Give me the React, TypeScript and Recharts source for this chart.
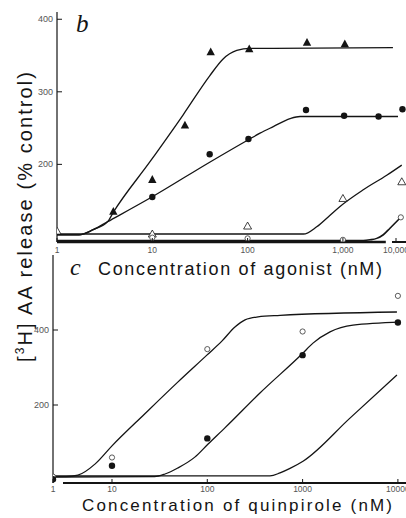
import React from "react";
import { ComposedChart, Line, Scatter, XAxis, YAxis, ReferenceLine } from "recharts";

// ---- panel b: agonist (nM) vs [3H]AA release (% control)
const bTicksX = [1, 10, 100, 1000, 10000];
const bTickLabelsX = ["1", "10", "100", "1,000", "10,000"];
const bTicksY = [200, 300, 400];

const bFilledTriX = [3.9, 10, 22, 41, 104, 420, 1080];
const bFilledTriY = [135, 179, 254, 355, 359, 368, 366];
const bFilledDotX = [10, 40, 102, 410, 1050, 4200, 11000];
const bFilledDotY = [155, 214, 235, 275, 267, 266, 276];
const bOpenTriX = [1, 10, 100, 1000, 10700];
const bOpenTriY = [108, 104, 115, 153, 176];
const bOpenDotX = [10, 100, 1000, 10300];
const bOpenDotY = [99, 98, 96, 127];

// fitted curves
const bFitTriX = [1, 1.7, 2.4, 3.4, 3.9, 9.5, 21, 40, 55, 77, 106, 185, 7500];
const bFitTriY = [103, 103, 110, 121, 134, 204, 268, 322, 345, 357, 360, 360, 361];
const bFitDotX = [1, 1.7, 2.4, 3.4, 9.9, 40, 102, 135, 186, 279, 355, 6660, 9190];
const bFitDotY = [103, 103, 110, 121, 155, 203, 234, 243, 252, 263, 266, 266, 266];
const bFitOpenTriX = [1, 385, 531, 733, 933, 2270, 5840, 10700];
const bFitOpenTriY = [104, 104, 114, 130, 142, 165, 185, 199];
const bFitOpenDotX = [1, 2270, 2990, 3900, 5090, 6650, 10000];
const bFitOpenDotY = [95, 95, 96, 98, 103, 112, 126];

// ---- panel c: quinpirole (nM)
const cTicksX = [1, 10, 100, 1000, 10000];
const cTickLabelsX = ["1", "10", "100", "1000", "10000"];
const cTicksY = [200, 400];

const cOpenX = [1, 10, 100, 1000, 10000];
const cOpenY = [9, 60, 349, 396, 491];
const cFilledX = [1, 10, 100, 1000, 10000];
const cFilledY = [2, 38, 111, 333, 420];

const cFitAX = [1, 1.66, 2.65, 5.2, 10, 22, 49, 99, 143, 195, 249, 341, 580, 9770];
const cFitAY = [9, 9, 13, 43, 91, 176, 261, 333, 371, 408, 427, 435, 439, 448];
const cFitBX = [1, 28, 36, 49, 74, 102, 153, 357, 986, 1285, 1940, 3380, 10500];
const cFitBY = [8, 9, 16, 32, 61, 96, 139, 232, 336, 365, 395, 413, 421];
const cFitCX = [1, 455, 580, 738, 1010, 3140, 9770];
const cFitCY = [11, 11, 19, 31, 50, 165, 280];

// broken log axes: panel b squeezes 1,000-10,000, panel c squeezes 1-10
const posB = (c: number) => (c > 1000 ? 3 + 0.6 * (Math.log10(c) - 3) : Math.log10(c));
const posC = (c: number) => (c < 10 ? 0.381 + 0.619 * Math.log10(c) : Math.log10(c));

const pts = (xs: number[], ys: number[], pos: (c: number) => number) =>
  xs.map((c, i) => ({ p: pos(c), v: ys[i] }));

const INK = "#141414";
const TICK_FONT = "Liberation Sans, Arial, sans-serif";

const FilledTri = (props: any) => {
  const { cx, cy } = props;
  return <path d={`M${cx},${cy - 4.5}L${cx + 4.2},${cy + 3.3}L${cx - 4.2},${cy + 3.3}Z`} fill={INK} />;
};
const OpenTri = (props: any) => {
  const { cx, cy } = props;
  return (
    <path
      d={`M${cx},${cy - 4}L${cx + 4},${cy + 3}L${cx - 4},${cy + 3}Z`}
      fill="#fff"
      stroke={INK}
      strokeWidth={0.8}
    />
  );
};
const FilledDot = (props: any) => <circle cx={props.cx} cy={props.cy} r={3.2} fill={INK} />;
const OpenDot = (props: any) => (
  <circle cx={props.cx} cy={props.cy} r={2.6} fill="#fff" stroke="#333" strokeWidth={0.8} />
);

const makeXTick = (ticks: number[], labels: string[], pos: (c: number) => number, dy: number) =>
  (props: any) => {
    const { x, y, payload } = props;
    const i = ticks.findIndex((t) => Math.abs(pos(t) - payload.value) < 1e-6);
    return (
      <g>
        <line x1={x} y1={y} x2={x} y2={y - 4} stroke={INK} strokeWidth={1} />
        <text x={x} y={y + dy} textAnchor="middle" fontSize={8.5} fill="#555" fontFamily={TICK_FONT}>
          {labels[i]}
        </text>
      </g>
    );
  };

const YTick = (props: any) => {
  const { x, y, payload } = props;
  return (
    <g>
      <line x1={x} y1={y} x2={x + 5} y2={y} stroke={INK} strokeWidth={1} />
      <text x={x - 4} y={y + 3} textAnchor="end" fontSize={9} fill="#555" fontFamily={TICK_FONT}>
        {payload.value}
      </text>
    </g>
  );
};

function PanelB() {
  return (
    <ComposedChart width={406} height={260} margin={{ top: 12, right: 0, bottom: 0, left: 0 }}>
      <XAxis
        type="number"
        dataKey="p"
        domain={[0, 3.662]}
        allowDataOverflow
        ticks={bTicksX.map(posB)}
        axisLine={false}
        tickLine={false}
        tickSize={0}
        tickMargin={0}
        height={18}
        tick={makeXTick(bTicksX, bTickLabelsX, posB, 11)}
      />
      <YAxis
        type="number"
        dataKey="v"
        domain={[93, 410]}
        allowDataOverflow
        ticks={bTicksY}
        width={57}
        axisLine={{ stroke: INK, strokeWidth: 1.2 }}
        tickLine={false}
        tickSize={0}
        tickMargin={0}
        tick={YTick}
      />
      <ReferenceLine segment={[{ x: 0, y: 93 }, { x: 3.45, y: 93 }]} stroke={INK} strokeWidth={2.4} ifOverflow="visible" />
      <ReferenceLine segment={[{ x: 3.515, y: 93 }, { x: 3.662, y: 93 }]} stroke={INK} strokeWidth={2} ifOverflow="visible" />
      <Line data={pts(bFitTriX, bFitTriY, posB)} dataKey="v" type="monotoneX" stroke={INK} strokeWidth={1.3} dot={false} isAnimationActive={false} />
      <Line data={pts(bFitDotX, bFitDotY, posB)} dataKey="v" type="monotoneX" stroke={INK} strokeWidth={1.3} dot={false} isAnimationActive={false} />
      <Line data={pts(bFitOpenTriX, bFitOpenTriY, posB)} dataKey="v" type="monotoneX" stroke={INK} strokeWidth={1.3} dot={false} isAnimationActive={false} />
      <Line data={pts(bFitOpenDotX, bFitOpenDotY, posB)} dataKey="v" type="monotoneX" stroke={INK} strokeWidth={1.6} dot={false} isAnimationActive={false} />
      <Scatter data={pts(bOpenTriX, bOpenTriY, posB)} dataKey="v" shape={OpenTri} isAnimationActive={false} />
      <Scatter data={pts(bOpenDotX, bOpenDotY, posB)} dataKey="v" shape={OpenDot} isAnimationActive={false} />
      <Scatter data={pts(bFilledTriX, bFilledTriY, posB)} dataKey="v" shape={FilledTri} isAnimationActive={false} />
      <Scatter data={pts(bFilledDotX, bFilledDotY, posB)} dataKey="v" shape={FilledDot} isAnimationActive={false} />
    </ComposedChart>
  );
}

function PanelC() {
  return (
    <ComposedChart width={406} height={268} margin={{ top: 5, right: 0, bottom: 0, left: 0 }}>
      <XAxis
        type="number"
        dataKey="p"
        domain={[0.381, 4.085]}
        allowDataOverflow
        ticks={cTicksX.map(posC)}
        axisLine={false}
        tickLine={false}
        tickSize={0}
        tickMargin={0}
        height={35}
        tick={makeXTick(cTicksX, cTickLabelsX, posC, 9)}
      />
      <YAxis
        type="number"
        dataKey="v"
        domain={[-8, 600]}
        allowDataOverflow
        ticks={cTicksY}
        width={53}
        axisLine={{ stroke: INK, strokeWidth: 1.2 }}
        tickLine={false}
        tickSize={0}
        tickMargin={0}
        tick={YTick}
      />
      <ReferenceLine segment={[{ x: 0.486, y: -8 }, { x: 4.085, y: -8 }]} stroke={INK} strokeWidth={2} ifOverflow="visible" />
      <Line data={pts(cFitAX, cFitAY, posC)} dataKey="v" type="monotoneX" stroke={INK} strokeWidth={1.3} dot={false} isAnimationActive={false} />
      <Line data={pts(cFitBX, cFitBY, posC)} dataKey="v" type="monotoneX" stroke={INK} strokeWidth={1.3} dot={false} isAnimationActive={false} />
      <Line data={pts(cFitCX, cFitCY, posC)} dataKey="v" type="monotoneX" stroke={INK} strokeWidth={1.3} dot={false} isAnimationActive={false} />
      <Scatter data={pts(cOpenX, cOpenY, posC)} dataKey="v" shape={OpenDot} isAnimationActive={false} />
      <Scatter data={pts(cFilledX, cFilledY, posC)} dataKey="v" shape={FilledDot} isAnimationActive={false} />
    </ComposedChart>
  );
}

export default function App() {
  return (
    <div style={{ position: "absolute", left: 0, top: 0, width: 406, height: 518, background: "#fff" }}>
      <div style={{ position: "absolute", left: 0, top: 0 }}>
        <PanelB />
      </div>
      <div style={{ position: "absolute", left: 0, top: 250 }}>
        <PanelC />
      </div>
      <svg
        width={406}
        height={518}
        style={{ position: "absolute", left: 0, top: 0, pointerEvents: "none" }}
      >
        <text x={76} y={32} fontFamily="Liberation Serif, serif" fontStyle="italic" fontSize={25} fill={INK}>
          b
        </text>
        <text x={70} y={275} fontFamily="Liberation Serif, serif" fontStyle="italic" fontSize={24} fill={INK}>
          c
        </text>
        <text x={98} y={275} fontFamily="Liberation Sans, Arial, sans-serif" fontSize={18} fill={INK} textLength={284} lengthAdjust="spacing">
          Concentration of agonist (nM)
        </text>
        <text x={82} y={511} fontFamily="Liberation Sans, Arial, sans-serif" fontSize={17} fill={INK} textLength={310} lengthAdjust="spacing">
          Concentration of quinpirole (nM)
        </text>
        <text
          x={32}
          y={362}
          transform="rotate(-90 32 362)"
          fontFamily="Liberation Sans, Arial, sans-serif"
          fontSize={20}
          fill={INK}
          textLength={290}
          lengthAdjust="spacing"
        >
          [<tspan fontSize={12} dy={-8}>3</tspan>
          <tspan dy={8}>H] AA release (% control)</tspan>
        </text>
      </svg>
    </div>
  );
}
